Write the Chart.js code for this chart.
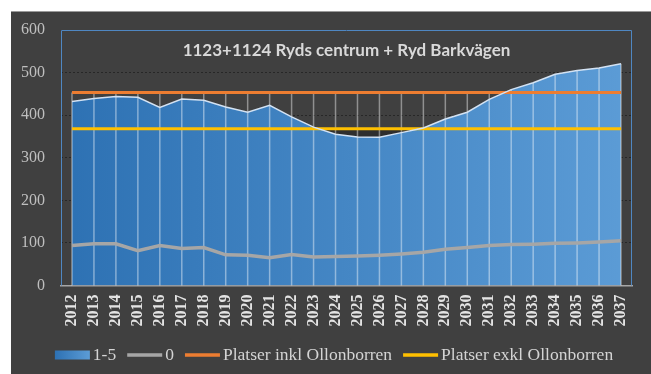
<!DOCTYPE html>
<html>
<head>
<meta charset="utf-8">
<title>Ryds centrum + Ryd Barkvägen</title>
<script src="https://cdn.jsdelivr.net/npm/chart.js@4.4.0/dist/chart.umd.min.js"></script>
<style>
  body { margin: 0; background: #fff; }
  #wrap {
    position: absolute; left: 11px; top: 11px;
    width: 640px; height: 363px;
    background: #404040;
    box-shadow: inset 0 1px 0 #9a9a9a;
  }
</style>
</head>
<body>
<div id="wrap"><canvas id="rydChart" width="640" height="363"></canvas></div>
<script>
// barn per år, 2012-2037
const years = ['2012','2013','2014','2015','2016','2017','2018','2019','2020','2021','2022','2023','2024',
               '2025','2026','2027','2028','2029','2030','2031','2032','2033','2034','2035','2036','2037'];
const barn15 = [432, 439, 444, 442, 418, 438, 435, 419, 407, 423, 396, 372, 355,
                349, 348, 359, 370, 391, 407, 437, 460, 476, 496, 505, 511, 521];
const barn0 = [94, 98, 98, 82, 94, 87, 89, 72, 71, 65, 73, 67, 68,
               69, 71, 74, 78, 85, 89, 94, 96, 97, 99, 100, 102, 105];
// platser i förskolorna
const platserInkl = [453, 453, 453, 453, 453, 453, 453, 453, 453, 453, 453, 453, 453,
                     453, 453, 453, 453, 453, 453, 453, 453, 453, 453, 453, 453, 453];
const platserExkl = [368, 368, 368, 368, 368, 368, 368, 368, 368, 368, 368, 368, 368,
                     368, 368, 368, 368, 368, 368, 368, 368, 368, 368, 368, 368, 368];
const yTicks = [0, 100, 200, 300, 400, 500, 600];

const chartTitle = '1123+1124 Ryds centrum + Ryd Barkvägen';
const serif = '"Liberation Serif", "DejaVu Serif", serif';

function blueFill(ctx, left, right) {
  const g = ctx.createLinearGradient(left, 0, right, 0);
  g.addColorStop(0, '#2d71b3');
  g.addColorStop(1, '#5c9cd6');
  return g;
}

// lodräta linjer från högsta värdet ner till x-axeln
const dropLines = {
  id: 'dropLines',
  beforeDatasetsDraw(chart) {
    const {ctx, chartArea, scales: {x, y}} = chart;
    // ramen runt diagramytan
    ctx.save();
    ctx.strokeStyle = '#4f87c2';
    ctx.lineWidth = 1;
    ctx.beginPath();
    ctx.moveTo(chartArea.left + 0.5, chartArea.bottom);
    ctx.lineTo(chartArea.left + 0.5, chartArea.top + 0.5);
    ctx.lineTo(chartArea.right - 0.5, chartArea.top + 0.5);
    ctx.lineTo(chartArea.right - 0.5, chartArea.bottom);
    ctx.stroke();

    ctx.strokeStyle = 'rgba(255,255,255,0.42)';
    ctx.lineWidth = 1.5;
    years.forEach((yr, i) => {
      const top = Math.max(...chart.data.datasets.map(d => d.data[i]));
      const px = x.getPixelForValue(i);
      ctx.beginPath();
      ctx.moveTo(px, y.getPixelForValue(top));
      ctx.lineTo(px, y.getPixelForValue(0));
      ctx.stroke();
    });
    ctx.restore();
  }
};

const titleInside = {
  id: 'titleInside',
  afterDatasetsDraw(chart) {
    const {ctx, chartArea} = chart;
    ctx.save();
    ctx.font = 'bold 17px Lato, "Open Sans", sans-serif';
    ctx.fillStyle = '#d9d9d9';
    ctx.textAlign = 'center';
    ctx.textBaseline = 'middle';
    ctx.fillText(chartTitle, (chartArea.left + chartArea.right) / 2, 40);
    ctx.restore();
  }
};

// förklaring längst ner
const bottomLegend = {
  id: 'bottomLegend',
  afterDraw(chart) {
    const {ctx} = chart;
    const sw = 35, gapText = 3, gapItem = 11, cy = 344;
    ctx.save();
    ctx.font = '17.5px ' + serif;
    const items = chart.data.datasets.map(d => ({
      label: d.label,
      color: d.borderColor,
      box: d.label === '1-5',
      w: sw + gapText + ctx.measureText(d.label).width
    }));
    const total = items.reduce((s, it) => s + it.w, 0) + gapItem * (items.length - 1);
    let x = (chart.width - total) / 2 + 3;
    items.forEach(it => {
      if (it.box) {
        ctx.fillStyle = blueFill(ctx, x, x + sw);
        ctx.fillRect(x, cy - 4.5, sw, 9);
      } else {
        ctx.fillStyle = it.color;
        ctx.fillRect(x, cy - 1.75, sw, 3.5);
      }
      ctx.fillStyle = '#d4d4d4';
      ctx.textBaseline = 'alphabetic';
      ctx.fillText(it.label, x + sw + gapText, cy + 5);
      x += it.w + gapItem;
    });
    ctx.restore();
  }
};

new Chart(document.getElementById('rydChart'), {
  type: 'line',
  data: {
    labels: years,
    datasets: [{
      label: '1-5',
      data: barn15,
      fill: 'origin',
      backgroundColor: function (context) {
        const area = context.chart.chartArea;
        if (!area) return '#3f84c4';
        return blueFill(context.chart.ctx, area.left, area.right);
      },
      borderColor: '#d3e2f3',
      borderWidth: 1.5,
      pointRadius: 0
    }, {
      label: '0',
      data: barn0,
      borderColor: '#a6a6a6',
      borderWidth: 3.5,
      pointRadius: 0
    }, {
      label: 'Platser inkl Ollonborren',
      data: platserInkl,
      borderColor: '#ed7d31',
      borderWidth: 3,
      pointRadius: 0
    }, {
      label: 'Platser exkl Ollonborren',
      data: platserExkl,
      borderColor: '#ffc000',
      borderWidth: 3,
      pointRadius: 0,
      fill: 'origin',
      backgroundColor: 'rgba(0,0,0,0.27)'
    }]
  },
  options: {
    responsive: false,
    animation: false,
    devicePixelRatio: 1,
    layout: { padding: { top: 19, right: 19, left: 0, bottom: 0 } },
    plugins: {
      legend: { display: false },
      tooltip: { enabled: false },
      filler: { drawTime: 'beforeDatasetsDraw' }
    },
    scales: {
      x: {
        offset: true,
        grid: { display: false, drawTicks: false },
        border: { display: true, color: '#a6a6a6', width: 1.5 },
        ticks: {
          autoSkip: false,
          minRotation: 90,
          maxRotation: 90,
          padding: 9,
          color: '#e3e3e3',
          font: { family: serif, size: 16, weight: 'bold' }
        },
        afterFit(scale) {
          scale.height = 88.5;
          scale.paddingLeft = 0;
          scale.paddingRight = 0;
        }
      },
      y: {
        min: 0,
        max: 600,
        afterBuildTicks(scale) { scale.ticks = yTicks.map(v => ({ value: v })); },
        grid: { color: 'rgba(0,0,0,0.38)', drawTicks: false },
        border: { display: false, dash: [2, 2] },
        ticks: {
          padding: 16,
          color: '#bfbfbf',
          font: { family: serif, size: 16 }
        },
        afterFit(scale) {
          // etiketterna får sticka ut utanför diagramytan
          scale.width = 50;
          scale.paddingTop = 0;
          scale.paddingBottom = 0;
        }
      }
    }
  },
  plugins: [dropLines, titleInside, bottomLegend]
});
</script>
</body>
</html>
